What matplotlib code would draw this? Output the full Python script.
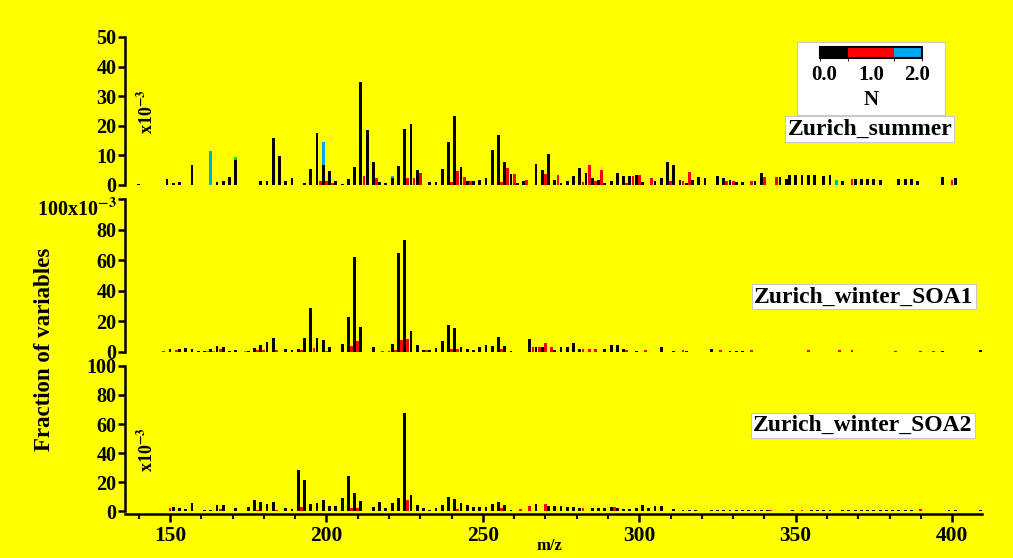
import numpy as np
import matplotlib
matplotlib.use("Agg")
import matplotlib.pyplot as plt
from matplotlib.colors import ListedColormap, BoundaryNorm
from matplotlib.cm import ScalarMappable
from matplotlib.patches import Rectangle

plt.rcParams['font.family'] = ['Liberation Serif', 'DejaVu Serif']
plt.rcParams['font.weight'] = 'bold'
plt.rcParams['mathtext.fontset'] = 'stix'
plt.rcParams['mathtext.default'] = 'bf'

# %% Daten (Anteil x10^-3) je m/z, getrennt nach Anzahl N-Atome

# Zurich_summer
summer_n0_mz = [140, 149, 151, 153, 157, 165, 167, 169, 171, 179, 181, 183, 185, 187, 189,
                193, 195, 197, 199, 201, 203, 205, 207, 209, 211, 213, 215, 217, 219, 221,
                223, 225, 227, 229, 233, 235, 237, 239, 241, 243, 245, 247, 249, 251, 253,
                255, 257, 259, 261, 263, 267, 269, 271, 273, 275, 277, 279, 281, 283, 285,
                287, 289, 291, 293, 295, 297, 299, 301, 305, 307, 309, 311, 313, 315, 317,
                319, 321, 325, 327, 329, 331, 333, 337, 339, 345, 347, 348, 350, 352, 354,
                356, 359, 361, 365, 369, 371, 373, 375, 377, 383, 385, 387, 389, 397, 401]
summer_n0 = [0.3, 1.9, 0.8, 1.0, 6.9, 1.0, 1.5, 2.8, 8.6, 1.2, 1.5, 16.0, 9.8, 1.5, 2.5,
             0.5, 5.4, 17.6, 6.6, 4.7, 1.5, 0.3, 2.0, 6.0, 34.7, 18.5, 7.7, 1.0, 0.5, 2.5,
             6.3, 19.0, 20.5, 5.0, 1.0, 1.0, 5.3, 14.4, 23.4, 6.0, 1.3, 1.3, 1.7, 2.3, 11.8,
             17.0, 7.7, 3.7, 0.8, 1.4, 7.0, 5.1, 10.5, 1.8, 0.8, 1.4, 3.2, 5.8, 4.2, 2.3,
             1.7, 0.8, 1.4, 3.9, 2.9, 2.9, 3.3, 1.0, 1.4, 2.5, 7.9, 6.6, 1.8, 0.8, 1.7,
             2.7, 2.5, 3.2, 2.2, 1.7, 1.0, 1.0, 1.2, 4.0, 2.8, 2.0, 3.5, 3.5, 3.5, 3.5,
             3.5, 3.2, 3.5, 1.2, 2.0, 2.0, 2.0, 2.0, 1.7, 2.0, 2.0, 2.0, 1.2, 2.8, 2.2]
summer_n1_mz = [198, 200, 202, 212, 216, 226, 228, 230, 240, 242, 244, 246, 256, 258, 260,
                264, 270, 274, 282, 284, 286, 288, 296, 298, 300, 304, 310, 314, 316, 328,
                330, 336, 340, 344, 368, 400]
summer_n1 = [1.2, 1.2, 0.8, 3.0, 2.5, 2.5, 2.5, 4.0, 1.0, 4.7, 2.8, 1.2, 1.0, 5.6, 3.7,
             1.7, 3.8, 3.4, 1.1, 6.6, 1.4, 5.0, 0.8, 2.9, 3.3, 2.5, 1.4, 1.4, 4.3, 1.4,
             1.5, 1.2, 2.6, 2.8, 2.0, 1.8]
summer_n2_mz = [163, 199, 221, 363]
summer_n2 = [11.4, 7.8, 0.7, 1.7]
summer_n3_mz = [171]
summer_n3 = [0.9]

# Zurich_winter_SOA1
soa1_n0_mz = [150, 153, 155, 157, 159, 161, 163, 165, 167, 169, 171, 175, 177, 179, 181,
              183, 187, 189, 191, 193, 195, 197, 199, 201, 205, 207, 209, 211, 215, 221,
              223, 225, 227, 229, 231, 233, 235, 237, 239, 241, 243, 245, 247, 249, 251,
              253, 255, 257, 259, 265, 267, 269, 273, 275, 277, 279, 281, 289, 291, 293,
              295, 299, 307, 311, 315, 323, 329, 331, 333, 397, 409]
soa1_n0 = [1.5, 2.0, 2.6, 2.0, 0.5, 0.7, 2.0, 3.7, 3.1, 0.5, 1.0, 0.7, 2.6, 4.1, 6.3,
           8.8, 2.0, 1.0, 1.5, 8.8, 28.3, 8.8, 7.5, 3.1, 5.0, 22.5, 62.2, 16.2, 3.0, 5.0,
           64.7, 73.4, 13.6, 4.1, 1.0, 1.0, 2.5, 7.3, 17.7, 15.7, 3.3, 2.1, 1.2, 3.3, 4.7,
           4.0, 9.4, 4.0, 0.5, 8.0, 3.3, 2.8, 1.2, 3.3, 2.8, 5.9, 2.1, 2.1, 4.7, 4.2,
           2.1, 0.5, 3.3, 0.5, 0.5, 1.6, 0.6, 0.6, 0.6, 0.5, 0.8]
soa1_n1_mz = [148, 152, 166, 178, 180, 184, 192, 196, 200, 208, 210, 218, 220, 222, 224,
              226, 232, 240, 242, 256, 266, 268, 270, 272, 282, 284, 286, 296, 302, 314,
              326, 336, 354, 364, 368, 382, 390, 394]
soa1_n1 = [0.5, 0.8, 1.5, 1.0, 1.0, 1.0, 1.0, 2.6, 0.5, 3.7, 6.7, 0.5, 0.5, 1.0, 7.5,
           8.1, 1.0, 2.1, 2.1, 2.1, 2.8, 3.3, 5.4, 2.8, 1.6, 2.1, 2.1, 1.4, 1.4, 1.0,
           1.0, 1.2, 1.2, 1.0, 1.4, 0.5, 0.5, 0.5]
soa1_n2_mz = [162, 164, 174]
soa1_n2 = [0.5, 0.5, 0.5]

# Zurich_winter_SOA2
soa2_n0_mz = [151, 153, 155, 157, 161, 163, 165, 167, 171, 175, 177, 179, 181, 183, 187,
              189, 191, 193, 195, 197, 199, 201, 203, 205, 207, 209, 211, 215, 217, 219,
              221, 223, 225, 227, 229, 231, 233, 235, 237, 239, 241, 243, 245, 247, 249,
              251, 253, 255, 257, 259, 267, 271, 273, 275, 277, 279, 281, 285, 287, 289,
              291, 293, 295, 297, 299, 301, 303, 305, 307, 311, 314, 316, 318, 323, 325,
              327, 329, 331, 333, 335, 337, 339, 341, 349, 355, 357, 359, 361, 365, 367,
              369, 371, 373, 375, 377, 379, 381, 383, 385, 387, 399, 401, 409]
soa2_n0 = [2.8, 1.9, 1.2, 5.4, 0.5, 0.7, 4.2, 4.2, 2.3, 2.8, 7.7, 6.3, 4.9, 6.3, 1.9,
           1.2, 28.4, 21.7, 4.9, 5.6, 7.7, 3.5, 3.5, 8.9, 24.2, 12.1, 7.0, 2.8, 6.3, 2.3,
           5.6, 8.9, 67.6, 11.0, 4.2, 2.3, 0.9, 2.3, 4.2, 9.8, 8.4, 5.4, 4.2, 2.8, 2.8,
           2.8, 4.9, 6.3, 4.2, 0.5, 5.1, 3.5, 3.5, 3.5, 3.0, 3.0, 2.3, 2.3, 2.3, 2.3,
           3.0, 2.3, 1.2, 1.2, 2.3, 4.0, 2.3, 3.5, 3.5, 1.2, 0.7, 0.7, 0.7, 0.6, 0.8,
           0.5, 0.7, 0.6, 0.8, 0.7, 0.5, 0.6, 0.7, 0.7, 0.5, 0.5, 0.5, 0.5, 0.5, 0.5,
           0.5, 0.5, 0.5, 0.5, 0.5, 0.5, 0.5, 0.5, 0.5, 0.5, 0.5, 0.5, 0.8]
soa2_n1_mz = [150, 166, 178, 184, 192, 208, 210, 226, 242, 256, 262, 265, 270, 282, 292,
              342, 352, 390]
soa2_n1 = [1.9, 1.2, 0.8, 0.5, 2.8, 1.9, 1.9, 7.7, 1.5, 1.9, 1.2, 3.2, 5.1, 2.3, 3.0,
           1.0, 1.0, 1.5]
soa2_n2_mz = [161]
soa2_n2 = [0.4]

n_bounds = [-0.1, 0.5, 1.5, 2.1]
n_ticks = [0, 1, 2]
n_colors = ['black', '#FF0000', '#00A8F0']

# %% Abbildung
fig = plt.figure(figsize=(10.13, 5.58), dpi=100, facecolor='#FFFF00')

xlim = (135.6, 409.5)
rects = [[0.1234, 0.6685, 0.8458, 0.2652],
         [0.1234, 0.3697, 0.8458, 0.2737],
         [0.1234, 0.0842, 0.8458, 0.2599]]
panels = [
    (summer_n0_mz, summer_n0, summer_n1_mz, summer_n1, summer_n2_mz, summer_n2, 50),
    (soa1_n0_mz, soa1_n0, soa1_n1_mz, soa1_n1, soa1_n2_mz, soa1_n2, 100),
    (soa2_n0_mz, soa2_n0, soa2_n1_mz, soa2_n1, soa2_n2_mz, soa2_n2, 100),
]
bw = 0.9

axes = []
for rect, (m0, v0, m1, v1, m2, v2, ymax) in zip(rects, panels):
    ax = fig.add_axes(rect)
    ax.set_facecolor('none')
    ax.bar(m1, v1, width=bw, color=n_colors[1], linewidth=0)
    ax.bar(m0, v0, width=bw, color=n_colors[0], linewidth=0)
    lookup = dict(zip(m0, v0))
    ax.bar(m2, v2, width=bw, bottom=[lookup.get(m, 0) for m in m2],
           color=n_colors[2], linewidth=0)
    ax.set_xlim(xlim)
    ax.set_ylim(0, ymax)
    for s in ['top', 'right', 'bottom']:
        ax.spines[s].set_visible(False)
    ax.spines['left'].set_linewidth(1.8)
    ax.tick_params(axis='y', direction='out', length=5, width=1.8, labelsize=14.5, pad=1)
    ax.tick_params(axis='x', bottom=False, labelbottom=False)
    axes.append(ax)

ax1, ax2, ax3 = axes

# gruene Spitze bei m/z 171 (Sommer)
lookup = dict(zip(summer_n0_mz, summer_n0))
ax1.bar(summer_n3_mz, summer_n3, width=bw, bottom=[lookup[m] for m in summer_n3_mz],
        color='#22CC00', linewidth=0)

ax1.set_yticks([0, 10, 20, 30, 40, 50])
ax2.set_yticks([0, 20, 40, 60, 80, 100])
ax2.set_yticklabels(['0', '20', '40', '60', '80', '100x10$^{-3}$'])
ax2.get_yticklabels()[-1].set_va('top')
ax3.set_yticks([0, 20, 40, 60, 80, 100])

ax3.spines['bottom'].set_visible(True)
ax3.spines['bottom'].set_linewidth(1.8)
ax3.spines['bottom'].set_position(('outward', 2.5))
ax3.set_xticks([150, 200, 250, 300, 350, 400])
ax3.set_xticks(np.arange(140, 410, 10), minor=True)
ax3.tick_params(axis='x', which='major', bottom=True, labelbottom=True, direction='out',
                length=6, width=1.8, labelsize=15.5, pad=2)
ax3.tick_params(axis='x', which='minor', bottom=True, direction='out', length=3.5, width=1.5)

# Skalierungsbeschriftungen
fig.text(0.145, 0.80, 'x10$^{-3}$', rotation=90, ha='center', va='center', fontsize=13)
fig.text(0.145, 0.194, 'x10$^{-3}$', rotation=90, ha='center', va='center', fontsize=13)
fig.text(0.044, 0.373, 'Fraction of variables', rotation=90, ha='center', va='center',
         fontsize=16.5)
fig.text(0.542, 0.022, 'm/z', ha='center', va='center', fontsize=12)

# Legende (Farbskala N)
fig.patches.append(Rectangle((0.787, 0.794), 0.146, 0.131, transform=fig.transFigure,
                             facecolor='white', edgecolor='#C8C8C8', linewidth=0.8,
                             zorder=1))
cax = fig.add_axes([0.8095, 0.896, 0.1005, 0.020])
cax.set_zorder(5)
cmap = ListedColormap(n_colors)
norm = BoundaryNorm(n_bounds, cmap.N)
cb = fig.colorbar(ScalarMappable(norm=norm, cmap=cmap), cax=cax, orientation='horizontal',
                  spacing='proportional', ticks=n_ticks)
cb.outline.set_linewidth(1.5)
cb.ax.set_xticklabels(['0.0', '1.0', '2.0'])
cb.ax.tick_params(length=0, labelsize=15, pad=5)
fig.text(0.860, 0.820, 'N', ha='center', va='center', fontsize=15, zorder=6)

# Probenbezeichnungen
box = dict(facecolor='white', edgecolor='#C8C8C8', linewidth=0.8, pad=1.5)
fig.text(0.940, 0.769, 'Zurich_summer', ha='right', va='center', fontsize=17, bbox=box,
         zorder=6)
fig.text(0.961, 0.468, 'Zurich_winter_SOA1', ha='right', va='center', fontsize=17, bbox=box)
fig.text(0.960, 0.238, 'Zurich_winter_SOA2', ha='right', va='center', fontsize=17, bbox=box)

fig.savefig('out.png', dpi=100, facecolor=fig.get_facecolor())
